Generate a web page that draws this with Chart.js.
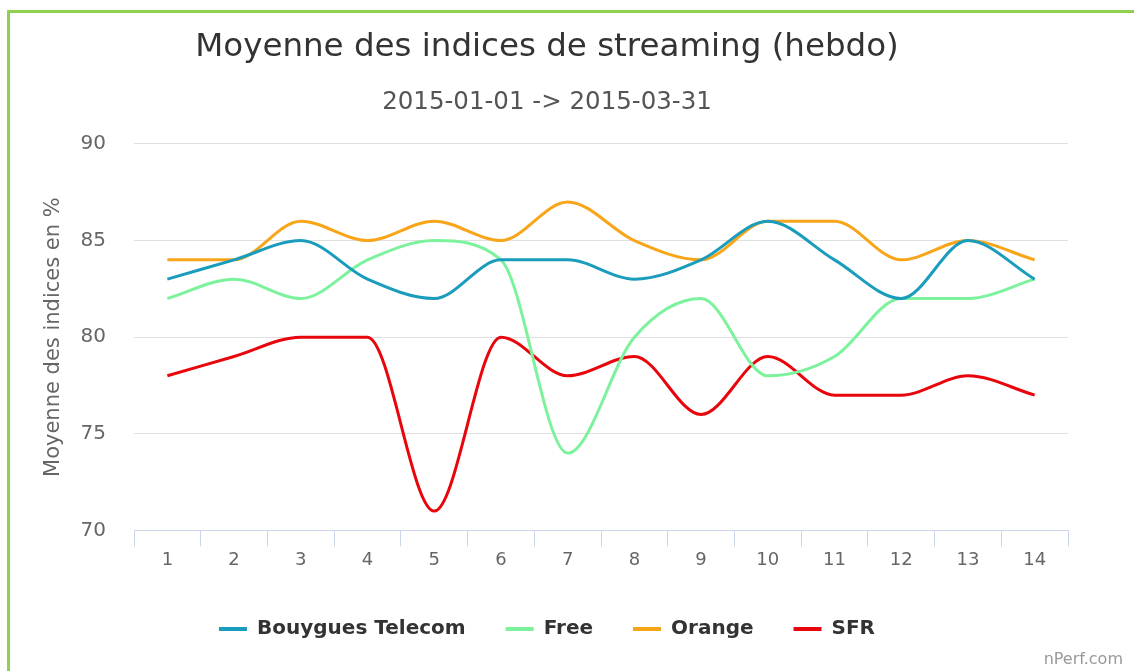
<!DOCTYPE html>
<html lang="fr">
<head>
<meta charset="UTF-8">
<title>Moyenne des indices de streaming</title>
<script src="https://cdn.jsdelivr.net/npm/chart.js"></script>
<style>
    html, body {margin: 0; padding: 0; background: #fff; overflow: hidden;}
    #cadre {position: absolute; left: 7px; top: 10px; width: 1140px; height: 700px; border: 3px solid #8fd14f;}
    #zone {position: absolute; left: 0; top: 0; width: 1094px; height: 671px;}
    #credit {position: absolute; right: 11px; top: 649px; font: 16px "DejaVu Sans", sans-serif; color: #999;}
</style>
</head>
<body>
<div id="cadre"></div>
<div id="zone"><canvas id="myChart"></canvas></div>
<div id="credit">nPerf.com</div>

<script>
    // semaines
    const semaines = ["1","2","3","4","5","6","7","8","9","10","11","12","13","14"];
    // valeurs par operateur
    const bouygues = [83, 84, 85, 83, 82, 84, 84, 83, 84, 86, 84, 82, 85, 83];
    const free     = [82, 83, 82, 84, 85, 84, 74, 80, 82, 78, 79, 82, 82, 83];
    const orange   = [84, 84, 86, 85, 86, 85, 87, 85, 84, 86, 86, 84, 85, 84];
    const sfr      = [78, 79, 80, 80, 71, 80, 78, 79, 76, 79, 77, 77, 78, 77];
    const yTicks   = [70, 75, 80, 85, 90];

    const police = '"DejaVu Sans", sans-serif';

    function serie(nom, valeurs, couleur) {
        return {
            label: nom,
            data: valeurs,
            borderColor: couleur,
            backgroundColor: couleur,
            borderWidth: 3,
            pointRadius: 0,
            pointHoverRadius: 0,
            cubicInterpolationMode: 'monotone',
            fill: false
        };
    }

    let data = {
        labels: semaines,
        datasets: [
            serie("Bouygues Telecom", bouygues, "#1a9cbc"),
            serie("Free", free, "#7cf29c"),
            serie("Orange", orange, "#f9a51a"),
            serie("SFR", sfr, "#e8050c")
        ]
    };

    let configs = {
        type: "line",
        data: data,
        options: {
            responsive: true,
            maintainAspectRatio: false,
            animation: false,
            // marges gauche/droite egales pour centrer titre et legende
            layout: {padding: {top: 0, right: 26, bottom: 22, left: 26}},
            plugins: {
                title: {
                    display: true,
                    text: "Moyenne des indices de streaming (hebdo)",
                    color: "#333",
                    font: {family: police, size: 32.5, weight: "normal"},
                    padding: {top: 28, bottom: 21}
                },
                subtitle: {
                    display: true,
                    text: "2015-01-01 -> 2015-03-31",
                    color: "#555",
                    font: {family: police, size: 24.5},
                    padding: {top: 0, bottom: 26.5}
                },
                legend: {
                    position: "bottom",
                    labels: {
                        color: "#333",
                        font: {family: police, size: 20, weight: "bold"},
                        boxWidth: 28,
                        boxHeight: 4,
                        padding: 40,
                        generateLabels: function(chart) {
                            return chart.data.datasets.map((ds, i) => ({
                                text: ds.label,
                                fillStyle: ds.borderColor,
                                strokeStyle: ds.borderColor,
                                lineWidth: 0,
                                fontColor: "#333",
                                hidden: !chart.isDatasetVisible(i),
                                datasetIndex: i
                            }));
                        }
                    }
                },
                tooltip: {enabled: false}
            },
            scales: {
                x: {
                    offset: true,
                    afterFit: function(axis) {
                        axis.height += 5;
                    },
                    grid: {
                        offset: true,
                        drawOnChartArea: false,
                        drawTicks: true,
                        tickLength: 16,
                        color: "#ccd6eb"
                    },
                    border: {display: true, color: "#ccd6eb", width: 1},
                    ticks: {color: "#666", font: {family: police, size: 18}, padding: 3}
                },
                y: {
                    min: 70,
                    max: 90,
                    afterBuildTicks: function(axis) {
                        axis.ticks = yTicks.map(v => ({value: v}));
                    },
                    afterFit: function(axis) {
                        axis.width = 108;
                    },
                    grid: {color: "#e0e0e0", drawTicks: false},
                    border: {display: false},
                    ticks: {color: "#666", font: {family: police, size: 20}, padding: 28},
                    title: {
                        display: true,
                        text: "Moyenne des indices en %",
                        color: "#666",
                        font: {family: police, size: 21},
                        padding: {top: 15, bottom: 0}
                    }
                }
            }
        }
    };

    let scoreChart = new Chart(document.getElementById("myChart"), configs);
</script>
</body>
</html>
